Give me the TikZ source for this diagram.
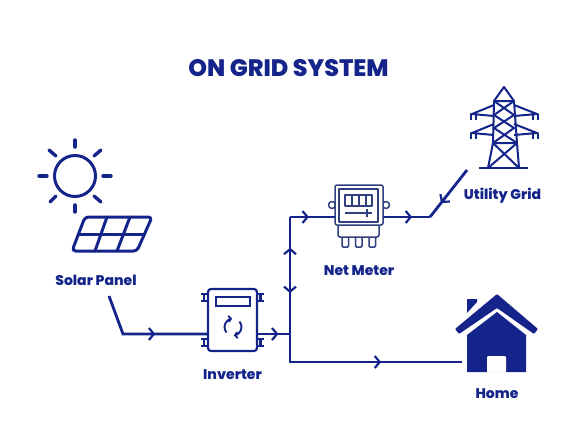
\documentclass[tikz,border=0pt]{standalone}
\usepackage{fontspec}
\setmainfont[BoldFont={Poppins ExtraBold}]{Poppins}
\usepackage{tikz}
\usetikzlibrary{arrows.meta, positioning, calc, decorations.markings}
\definecolor{gridblue}{HTML}{14248A}
\definecolor{meterblue}{HTML}{2F3F7F}
\tikzset{
    wire/.style={gridblue, line width=2.8pt, line join=miter},
    flowat/.style={postaction={decorate}, decoration={markings, mark=at position #1 with {\arrow[gridblue, line width=2.2pt]{Straight Barb[length=5pt, width=12pt]}}}},
    icon/.style={gridblue, line width=3pt, line cap=round, line join=round},
    thinicon/.style={meterblue, line width=1.5pt, line join=round},
    towerline/.style={gridblue, line width=2pt, line join=round},
    caption/.style={gridblue, font=\bfseries\fontsize{14}{15}\selectfont, inner sep=0pt}
}

\begin{document}
\begin{tikzpicture}[x=1pt, y=-1pt]
        % Fix the page size
        \useasboundingbox (0,0) rectangle (577,432);
        % Title
        \node[gridblue, font=\bfseries\fontsize{23.8}{25}\selectfont, inner sep=0pt] (title) at (288.5,68) {ON GRID SYSTEM};
        % Sun
        \def\sunx{75}
        \def\suny{176}
        \node[draw=gridblue, line width=3pt, circle, minimum size=41, inner sep=0pt] (sun) at (\sunx,\suny) {};
        \foreach \dx/\dy/\ex/\ey in {0/-36/0/-29, 0/36/0/29, -36/0/-28/0, 36/0/28/0, -26/-26/-19/-20, 26/-26/19/-20, -25/26/-19/20, 26/26/19/20}
            \draw[icon, line width=3.4pt] (\sunx+\dx,\suny+\dy) -- (\sunx+\ex,\suny+\ey);
        % Solar panel
        \draw[icon, rounded corners=3.5pt] (85,217) -- (152,217) -- (137,251) -- (72,251) -- cycle;
        \draw[icon] (78.5,234) -- (144.5,234);
        \draw[icon] (107,217) -- (95,251);
        \draw[icon] (130,217) -- (117,251);
        \node[caption] (solarlabel) at (96,280) {Solar Panel};
        % Inverter
        \node[draw=gridblue, line width=2.2pt, rounded corners=3pt, minimum width=49, minimum height=62, inner sep=0pt, outer sep=0pt] (inverter) at (232.5,320) {};
        \draw[gridblue, line width=2pt] (216,297) rectangle (250,306);
        \foreach \lx/\ly in {204/297.5, 204/342.5, 260.5/297.5, 260.5/342.5} {
            \draw[gridblue, line width=2pt] (\lx-3,\ly-3.5) -- (\lx+3,\ly-3.5);
            \draw[gridblue, line width=2pt] (\lx-3,\ly+3.5) -- (\lx+3,\ly+3.5);
            \draw[gridblue, line width=2.6pt] (\lx,\ly-3.5) -- (\lx,\ly+3.5);
        }
        \draw[gridblue, line width=1.9pt, -{Straight Barb[length=2.5pt, width=6pt]}] (226.5,332.5) arc (140:265:8.5);
        \draw[gridblue, line width=1.9pt, -{Straight Barb[length=2.5pt, width=6pt]}] (239.5,321.5) arc (-40:85:8.5);
        \node[caption, below=18.5pt of inverter] (inverterlabel) {Inverter};
        % Net meter
        \draw[thinicon] (332,205) circle (3.5);
        \draw[thinicon] (386,205) circle (3.5);
        \node[draw=meterblue, fill=white, line width=1.5pt, rounded corners=2pt, minimum width=48, minimum height=40, inner sep=0pt, outer sep=0pt] (meter) at (359,205) {};
        \draw[thinicon, line width=1.9pt] (339,189) rectangle (378,222);
        \draw[thinicon] (345,195) rectangle (372,206);
        \foreach \vx in {352,359,366}
            \draw[thinicon] (\vx,195) -- (\vx,206);
        \draw[thinicon] (345,213) -- (372,213);
        \draw[thinicon] (367,209) -- (367,217);
        \draw[thinicon, rounded corners=2pt] (338,225) -- (338,237) -- (379,237) -- (379,225);
        \foreach \tx in {342,355.5,369}
            \draw[thinicon, rounded corners=1pt] (\tx,237) -- (\tx,247) -- (\tx+6.5,247) -- (\tx+6.5,237);
        \node[caption, below=40.5pt of meter] (meterlabel) {Net Meter};
        % Utility tower
        \draw[towerline] (494,101) -- (504,87) -- (514,101) -- cycle;
        \draw[towerline] (494,101) -- (493,143) -- (517,143) -- (514,101);
        \draw[towerline] (494,101) -- (514,115) -- (494,128) -- (517,143);
        \draw[towerline] (514,101) -- (494,115) -- (514,128) -- (493,143);
        \draw[towerline] (493,143) -- (488,168);
        \draw[towerline] (517,143) -- (519,168);
        \draw[towerline] (493,143) -- (519,168);
        \draw[towerline] (517,143) -- (488,168);
        \draw[towerline] (479,168) -- (528,168);
        \foreach \ay in {0,19} {
            \draw[towerline] (494,105+\ay) -- (472,114+\ay) -- (494,116+\ay);
            \draw[towerline] (514,105+\ay) -- (537,114+\ay) -- (514,116+\ay);
            \draw[towerline] (471,120+\ay) -- (471,114+\ay) -- (476,114+\ay) -- (476,120+\ay);
            \draw[towerline] (533,120+\ay) -- (533,114+\ay) -- (538,114+\ay) -- (538,120+\ay);
        }
        \node[caption] (gridlabel) at (502.5,195.5) {Utility Grid};
        % Home
        \fill[gridblue, rounded corners=1pt] (497,294) -- (538,329) -- (534,334) -- (497,308) -- (459,334) -- (455,329) -- cycle;
        \fill[gridblue] (467,335) -- (497,312) -- (526,335) -- (526,372) -- (467,372) -- cycle;
        \fill[white, rounded corners=1pt] (487,372.5) -- (487,356) -- (506,356) -- (506,372.5) -- cycle;
        \fill[gridblue] (467,299) -- (477,299) -- (477,302) -- (467,313) -- cycle;
        \node[caption] (homelabel) at (497,394) {Home};
        % Wire points
        \coordinate (solarend) at (109,296);
        \coordinate (solarbend) at (123,334);
        \coordinate (junction) at (290,334);
        \coordinate (midwire) at (290,270);
        \coordinate (meterturn) at (290,217);
        \coordinate (hometurn) at (290,362);
        \coordinate (homeend) at (462,362);
        \coordinate (gridbend) at (430,217);
        \coordinate (gridend) at (467,170);
        % Wires
        \draw[wire] (solarend) -- (solarbend) -- (solarbend -| inverter.west);
        \draw[wire, flowat=0.65] (inverter.east |- junction) -- (junction);
        \draw[wire, flowat=0.36] (midwire) -- (junction);
        \draw[wire, flowat=0.42] (midwire) -- (meterturn);
        \draw[wire, flowat=0.42] (meterturn) -- (meterturn -| meter.west);
        \draw[wire] (junction) -- (hometurn) -- (homeend);
        \draw[wire, flowat=0.62] (meter.east |- gridbend) -- (gridbend);
        \draw[wire, flowat=0.7] (gridend) -- (gridbend);
        % Arrow marks on the bent wires
        \path[flowat=0.38] (solarbend) -- (solarbend -| inverter.west);
        \path[flowat=0.53] (hometurn) -- (homeend);
\end{tikzpicture}
\end{document}
